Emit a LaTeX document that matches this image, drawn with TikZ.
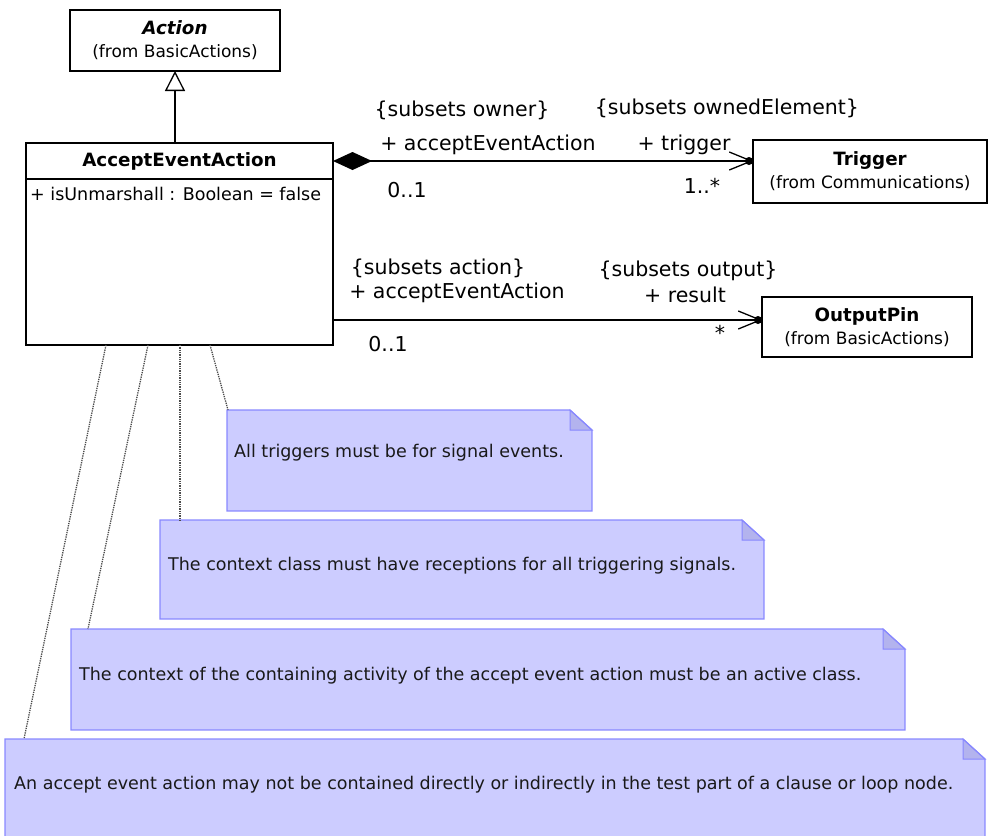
\documentclass[tikz,border=0pt]{standalone}
\usepackage{fontspec}
\setmainfont{DejaVu Sans}
\usetikzlibrary{arrows.meta,positioning,calc}
\definecolor{notefill}{HTML}{CCCCFF}
\definecolor{noteline}{HTML}{8888FF}
\definecolor{notefold}{HTML}{B3B3EE}
\newcommand{\clsname}[1]{{\fontsize{18.3}{23}\selectfont\textbf{#1}}}

\begin{document}
\begin{tikzpicture}[x=1pt, y=-1pt,
    cls/.style={draw, line width=1.3pt, fill=white, align=center, inner sep=0pt,
                outer sep=0pt, font=\fontsize{17}{23}\selectfont},
    lbl/.style={font=\fontsize{20.5}{24}\selectfont, inner sep=0pt},
    note/.style={fill=notefill, inner sep=0pt, outer sep=0pt, anchor=north west},
    notetext/.style={anchor=west, inner sep=0pt, text=black!90,
                     font=\fontsize{17.5}{20}\selectfont},
    assoc/.style={line width=1.3pt},
    trace/.style={densely dotted, line width=1.3pt, black!70}]
  \useasboundingbox (0,0) rectangle (989,836);
  %% Classes
  \node[cls, anchor=north west, minimum width=210pt, minimum height=61pt] (action) at (70,10)
    {\clsname{\textit{Action}}\\(from BasicActions)};
  \node[cls, anchor=north west, minimum width=307pt, minimum height=36pt] (aea) at (26,143)
    {\clsname{AcceptEventAction}};
  \node[cls, anchor=north, minimum width=307pt, minimum height=166pt] (aeabody) at (aea.south) {};
  \node[anchor=west, inner sep=0pt, font=\fontsize{17.5}{20}\selectfont] (attr) at (30,194)
    {+ isUnmarshall : Boolean = false};
  \node[cls, anchor=north west, minimum width=234pt, minimum height=63pt] (trigger) at (753,140)
    {\clsname{Trigger}\\(from Communications)};
  \node[cls, anchor=north west, minimum width=210pt, minimum height=60pt] (outpin) at (762,297)
    {\clsname{OutputPin}\\(from BasicActions)};
  %% Generalization
  \draw[line width=1.3pt, -{Triangle[open, length=20pt, width=20pt]}]
    (action.south |- aea.north) -- (action.south);
  %% Associations
  \draw[assoc, {Diamond[length=39pt, width=18pt]}-{Straight Barb[length=22pt, width=18pt]}]
    (aea.east) -- (aea.east -| trigger.west);
  \fill ([xshift=-4pt]aea.east -| trigger.west) circle (4pt);
  \coordinate (pinend) at ([yshift=7pt]outpin.west);
  \draw[assoc, -{Straight Barb[length=22pt, width=18pt]}]
    (aeabody.east |- pinend) -- (pinend);
  \fill ([xshift=-4pt]pinend) circle (4pt);
  %% Association end labels
  \node[lbl] (ownr)  at (462,110) {\{subsets owner\}};
  \node[lbl] (aear1) at (488,145) {+ acceptEventAction};
  \node[lbl] (m1)    at (407,190) {0..1};
  \node[lbl] (ownel) at (727,108) {\{subsets ownedElement\}};
  \node[lbl] (trg)   at (684,145) {+ trigger};
  \node[lbl] (m2)    at (702,186) {1..*};
  \node[lbl] (act)   at (438,268) {\{subsets action\}};
  \node[lbl] (aear2) at (457,293) {+ acceptEventAction};
  \node[lbl] (m3)    at (388,344) {0..1};
  \node[lbl] (outp)  at (688,271) {\{subsets output\}};
  \node[lbl] (res)   at (685,295) {+ result};
  \node[lbl] (m4)    at (720,333) {*};
  %% Constraint notes
  \node[note, minimum width=365pt, minimum height=101pt] (n1) at (227,410) {};
  \node[note, minimum width=604pt, minimum height=99pt]  (n2) at (160,520) {};
  \node[note, minimum width=834pt, minimum height=101pt] (n3) at (71,629) {};
  \node[note, minimum width=980pt, minimum height=102pt] (n4) at (5,739) {};
  \foreach \n in {n1,n2,n3,n4}{
    \fill[white] ([xshift=-22pt]\n.north east) -- (\n.north east) -- ([yshift=-20pt]\n.north east) -- cycle;
    \filldraw[fill=notefold, draw=noteline, line width=1pt]
      ([xshift=-22pt]\n.north east) -- ([xshift=-22pt,yshift=-20pt]\n.north east)
      -- ([yshift=-20pt]\n.north east) -- cycle;
    \draw[noteline, line width=1.2pt] (\n.south west) -- (\n.north west)
      -- ([xshift=-22pt]\n.north east) -- ([yshift=-20pt]\n.north east) -- (\n.south east) -- cycle;
  }
  \node[notetext] (t1) at ($(n1.north west)+(7,43)$) {All triggers must be for signal events.};
  \node[notetext] (t2) at ($(n2.north west)+(8,46)$) {The context class must have receptions for all triggering signals.};
  \node[notetext] (t3) at ($(n3.north west)+(8,47)$) {The context of the containing activity of the accept event action must be an active class.};
  \node[notetext] (t4) at ($(n4.north west)+(9,46)$) {An accept event action may not be contained directly or indirectly in the test part of a clause or loop node.};
  %% Links from the class to its notes
  \draw[trace] ([xshift=184pt]aeabody.south west) -- ([xshift=1pt]n1.north west);
  \draw[trace] ([xshift=154pt]aeabody.south west) -- ([xshift=20pt]n2.north west);
  \draw[trace] ([xshift=122pt]aeabody.south west) -- ([xshift=17pt]n3.north west);
  \draw[trace] ([xshift=80pt]aeabody.south west) -- ([xshift=19pt]n4.north west);
\end{tikzpicture}
\end{document}
